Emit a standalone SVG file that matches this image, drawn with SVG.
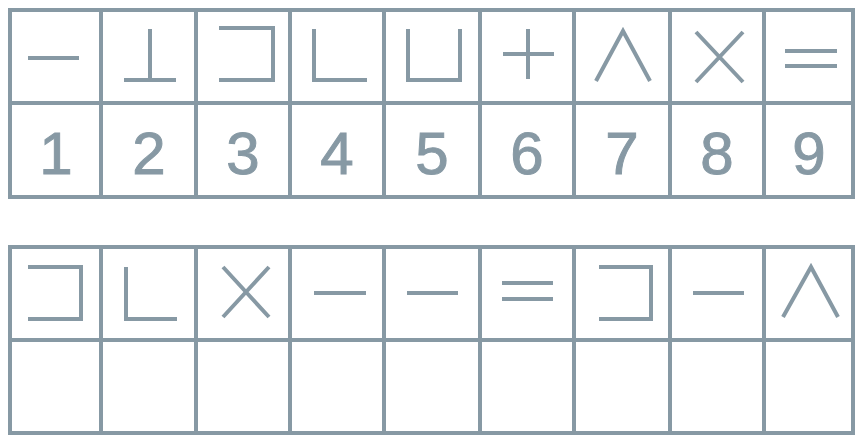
<svg xmlns="http://www.w3.org/2000/svg" width="862" height="439" viewBox="0 0 862 439">
<style>
.grid{fill:none;stroke:#8799a4;stroke-width:4}
.g{fill:none;stroke:#8799a4;stroke-width:4;stroke-linecap:butt;stroke-linejoin:miter}
.num{font-family:"Liberation Sans",Arial,sans-serif;font-size:60px;fill:#8799a4;stroke:#8799a4;stroke-width:1;text-anchor:middle}
</style>
<rect width="862" height="439" fill="#ffffff"/>
<g id="table-top">
<path class="grid" d="M10 10H853V197H10Z M10 103H853 M101 10V197 M196 10V197 M290 10V197 M384 10V197 M480 10V197 M574 10V197 M670 10V197 M764 10V197"/>
</g>
<g id="table-bottom">
<path class="grid" d="M10 247H853V433H10Z M10 340H853 M101 247V433 M196 247V433 M290 247V433 M384 247V433 M480 247V433 M574 247V433 M670 247V433 M764 247V433"/>
</g>
<g id="key">
<g id="k1"><path class="g" d="M28 58H79"/><text class="num" x="56" y="174">1</text></g>
<g id="k2"><path class="g" d="M150 29V80 M124 80H176"/><text class="num" x="149" y="174">2</text></g>
<g id="k3"><path class="g" d="M219 28H273V80H219"/><text class="num" x="243" y="174">3</text></g>
<g id="k4"><path class="g" d="M314 29V80H367"/><text class="num" x="337" y="174">4</text></g>
<g id="k5"><path class="g" d="M408 29V80H460V29"/><text class="num" x="432" y="174">5</text></g>
<g id="k6"><path class="g" d="M503 54H554 M528 29V79"/><text class="num" x="527" y="174">6</text></g>
<g id="k7"><path class="g" d="M596 81L623 31L650 81"/><text class="num" x="622" y="174">7</text></g>
<g id="k8"><path class="g" d="M696 32L743 82 M743 32L696 82"/><text class="num" x="717" y="174">8</text></g>
<g id="k9"><path class="g" d="M785 51H837 M785 66H837"/><text class="num" x="809" y="174">9</text></g>
</g>
<g id="code">
<g id="c1"><path class="g" d="M28 267H81V319H28"/></g>
<g id="c2"><path class="g" d="M126 267V319H177"/></g>
<g id="c3"><path class="g" d="M223 267L269 317 M269 267L223 317"/></g>
<g id="c4"><path class="g" d="M314 293H366"/></g>
<g id="c5"><path class="g" d="M407 293H458"/></g>
<g id="c6"><path class="g" d="M502 283H553 M502 299H553"/></g>
<g id="c7"><path class="g" d="M599 267H651V319H599"/></g>
<g id="c8"><path class="g" d="M693 293H744"/></g>
<g id="c9"><path class="g" d="M783 317L811 267L838 317"/></g>
</g>
</svg>
